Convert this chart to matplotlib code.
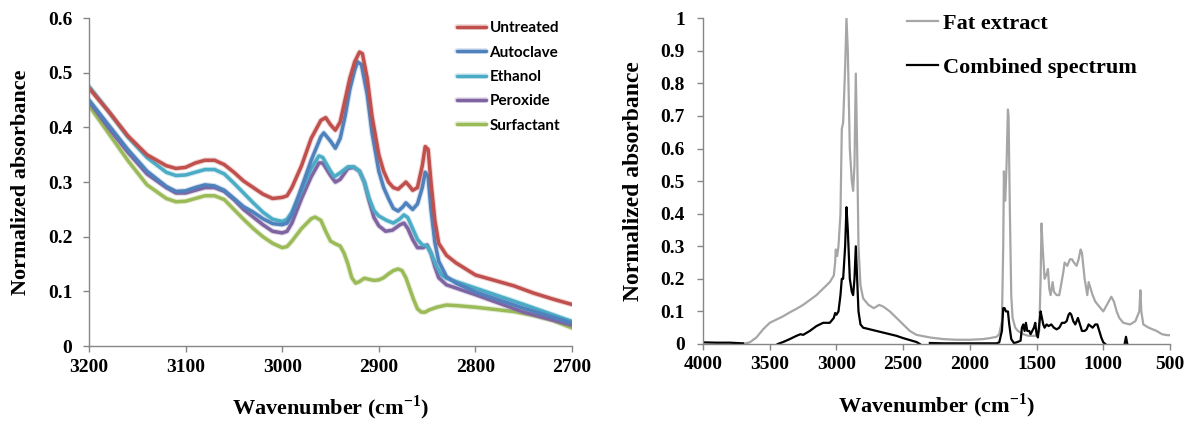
import numpy as np
import matplotlib.pyplot as plt
import matplotlib.patheffects as pe

plt.rcParams['mathtext.fontset'] = 'custom'
plt.rcParams['mathtext.bf'] = 'Liberation Serif:bold'
plt.rcParams['mathtext.rm'] = 'Liberation Serif:bold'

# ---- left panel: C-H stretch region, 5 pretreatments ----
wn_untreated = [3200, 3180, 3160, 3140, 3120, 3110, 3100, 3090, 3080, 3070, 3060, 3050, 3040, 3030,
                3020, 3010, 3000, 2995, 2990, 2980, 2970, 2960, 2955, 2950, 2945, 2940, 2935, 2930,
                2925, 2920, 2917, 2912, 2907, 2900, 2895, 2890, 2885, 2880, 2875, 2872, 2868, 2865,
                2860, 2855, 2852, 2849, 2846, 2842, 2838, 2830, 2820, 2800, 2780, 2760, 2740, 2720, 2700]
abs_untreated = [0.472, 0.43, 0.385, 0.35, 0.33, 0.325, 0.327, 0.335, 0.34, 0.34, 0.332, 0.318, 0.302, 0.29,
                 0.278, 0.27, 0.272, 0.275, 0.29, 0.33, 0.38, 0.413, 0.418, 0.405, 0.395, 0.41, 0.45, 0.49,
                 0.52, 0.538, 0.535, 0.49, 0.42, 0.35, 0.32, 0.3, 0.29, 0.287, 0.295, 0.3, 0.292, 0.285,
                 0.29, 0.33, 0.365, 0.36, 0.3, 0.23, 0.188, 0.166, 0.152, 0.13, 0.12, 0.11, 0.097, 0.086, 0.076]

wn_autoclave = [3200, 3180, 3160, 3140, 3120, 3110, 3100, 3090, 3080, 3070, 3060, 3050, 3040, 3030,
                3020, 3010, 3000, 2995, 2990, 2980, 2970, 2960, 2957, 2950, 2945, 2940, 2935, 2930,
                2925, 2922, 2918, 2912, 2907, 2900, 2895, 2890, 2885, 2880, 2875, 2872, 2868, 2865,
                2860, 2855, 2852, 2849, 2846, 2842, 2838, 2830, 2820, 2800, 2750, 2700]
abs_autoclave = [0.45, 0.405, 0.36, 0.32, 0.292, 0.283, 0.284, 0.29, 0.295, 0.293, 0.285, 0.27, 0.255, 0.245,
                 0.233, 0.224, 0.222, 0.225, 0.24, 0.29, 0.34, 0.383, 0.39, 0.375, 0.362, 0.38, 0.42, 0.47,
                 0.505, 0.52, 0.515, 0.46, 0.39, 0.32, 0.29, 0.27, 0.252, 0.247, 0.255, 0.262, 0.255, 0.25,
                 0.26, 0.29, 0.318, 0.31, 0.25, 0.19, 0.155, 0.127, 0.115, 0.099, 0.069, 0.042]

wn_ethanol = [3200, 3180, 3160, 3140, 3120, 3110, 3100, 3090, 3080, 3070, 3060, 3050, 3040, 3030,
              3020, 3010, 3000, 2995, 2990, 2980, 2970, 2962, 2958, 2950, 2946, 2940, 2932, 2926,
              2920, 2915, 2910, 2905, 2900, 2892, 2885, 2878, 2874, 2870, 2865, 2860, 2855, 2850,
              2846, 2840, 2835, 2830, 2800, 2750, 2700]
abs_ethanol = [0.475, 0.43, 0.383, 0.345, 0.318, 0.312, 0.313, 0.318, 0.323, 0.323, 0.315, 0.298, 0.28, 0.262,
               0.245, 0.232, 0.228, 0.232, 0.245, 0.285, 0.325, 0.348, 0.345, 0.32, 0.31, 0.317, 0.328, 0.328,
               0.32, 0.3, 0.27, 0.248, 0.238, 0.23, 0.225, 0.233, 0.24, 0.235, 0.215, 0.195, 0.185, 0.183,
               0.17, 0.145, 0.13, 0.124, 0.106, 0.076, 0.045]

wn_peroxide = [3200, 3180, 3160, 3140, 3120, 3110, 3100, 3090, 3080, 3070, 3060, 3050, 3040, 3030,
               3020, 3010, 3000, 2995, 2990, 2980, 2970, 2962, 2958, 2950, 2945, 2940, 2932, 2926,
               2920, 2915, 2910, 2905, 2900, 2893, 2886, 2878, 2874, 2870, 2865, 2860, 2854, 2850,
               2846, 2842, 2838, 2830, 2800, 2750, 2700]
abs_peroxide = [0.448, 0.4, 0.355, 0.315, 0.29, 0.28, 0.28, 0.285, 0.29, 0.29, 0.283, 0.268, 0.25, 0.236,
                0.222, 0.21, 0.207, 0.21, 0.225, 0.27, 0.31, 0.335, 0.335, 0.312, 0.3, 0.305, 0.325, 0.327,
                0.32, 0.3, 0.265, 0.235, 0.22, 0.21, 0.212, 0.222, 0.225, 0.215, 0.195, 0.18, 0.18, 0.185,
                0.17, 0.145, 0.125, 0.112, 0.094, 0.062, 0.038]

wn_surfactant = [3200, 3180, 3160, 3140, 3120, 3110, 3100, 3090, 3080, 3070, 3060, 3050, 3040, 3030,
                 3020, 3010, 3000, 2995, 2990, 2980, 2970, 2966, 2960, 2955, 2950, 2945, 2940, 2936,
                 2932, 2928, 2924, 2920, 2915, 2910, 2905, 2900, 2895, 2890, 2885, 2880, 2876, 2872,
                 2868, 2864, 2860, 2856, 2852, 2848, 2840, 2830, 2820, 2800, 2780, 2760, 2740, 2720, 2700]
abs_surfactant = [0.44, 0.39, 0.34, 0.295, 0.27, 0.264, 0.265, 0.27, 0.275, 0.275, 0.268, 0.25, 0.232, 0.215,
                  0.2, 0.188, 0.18, 0.182, 0.192, 0.215, 0.233, 0.236, 0.23, 0.21, 0.192, 0.187, 0.183, 0.17,
                  0.15, 0.125, 0.115, 0.118, 0.124, 0.122, 0.12, 0.121, 0.125, 0.132, 0.138, 0.141, 0.138, 0.125,
                  0.105, 0.085, 0.068, 0.062, 0.062, 0.066, 0.071, 0.075, 0.074, 0.071, 0.067, 0.063, 0.056, 0.047, 0.033]

# ---- right panel: full range, fat extract vs combined ----
wn_fat = [3700, 3650, 3600, 3550, 3500, 3450, 3400, 3350, 3300, 3250, 3200, 3150, 3100, 3050, 3020,
          3010, 3005, 2995, 2985, 2970, 2960, 2950, 2935, 2925, 2915, 2900, 2885, 2875, 2865, 2855,
          2845, 2835, 2820, 2800, 2760, 2720, 2680, 2650, 2600, 2550, 2500, 2450, 2400, 2300, 2200,
          2100, 2000, 1900, 1850, 1800, 1780, 1760, 1750, 1745, 1740, 1735, 1725, 1715, 1710, 1700,
          1690, 1680, 1660, 1640, 1600, 1560, 1500, 1480, 1470, 1463, 1455, 1440, 1420, 1415, 1405,
          1395, 1380, 1370, 1350, 1330, 1300, 1290, 1270, 1250, 1235, 1220, 1200, 1185, 1170, 1160,
          1140, 1120, 1110, 1095, 1080, 1060, 1040, 1000, 980, 960, 940, 920, 900, 880, 850, 800,
          760, 730, 722, 715, 700, 660, 600, 560, 520, 500]
abs_fat = [0.0, 0.005, 0.02, 0.045, 0.065, 0.075, 0.085, 0.097, 0.108, 0.12, 0.135, 0.15, 0.17, 0.19, 0.21,
           0.25, 0.29, 0.27, 0.3, 0.4, 0.66, 0.68, 0.85, 1.0, 0.9, 0.6, 0.5, 0.47, 0.55, 0.83,
           0.6, 0.3, 0.18, 0.14, 0.12, 0.11, 0.12, 0.115, 0.1, 0.08, 0.06, 0.04, 0.028, 0.02, 0.015,
           0.013, 0.013, 0.015, 0.018, 0.022, 0.03, 0.07, 0.3, 0.53, 0.45, 0.44, 0.55, 0.72, 0.7, 0.4,
           0.15, 0.08, 0.05, 0.04, 0.03, 0.025, 0.025, 0.04, 0.2, 0.37, 0.3, 0.2, 0.22, 0.23, 0.17,
           0.15, 0.19, 0.16, 0.15, 0.15, 0.22, 0.25, 0.24, 0.26, 0.26, 0.25, 0.24, 0.26, 0.29, 0.28,
           0.2, 0.15, 0.19, 0.17, 0.15, 0.13, 0.12, 0.1, 0.115, 0.13, 0.145, 0.13, 0.1, 0.08, 0.065, 0.06,
           0.07, 0.1, 0.165, 0.1, 0.06, 0.05, 0.04, 0.03, 0.027, 0.027]

nan = float('nan')
wn_comb = [4000, 3900, 3800, 3700, 3680, 3440, 3400, 3350, 3300, 3270, 3250, 3200, 3150, 3100, 3050,
           3020, 3010, 3000, 2985, 2970, 2960, 2950, 2935, 2925, 2915, 2900, 2885, 2875, 2865, 2855,
           2845, 2835, 2820, 2800, 2750, 2700, 2650, 2600, 2550, 2500, 2450, 2400, 2375, 2330,
           2300, 2200, 2000, 1800, 1780, 1760, 1750, 1740, 1730, 1715, 1705, 1690, 1670, 1650, 1620,
           1610, 1600, 1590, 1580, 1570, 1555, 1545, 1520, 1510, 1500, 1490, 1480, 1470, 1460, 1450,
           1440, 1425, 1410, 1390, 1370, 1350, 1330, 1310, 1290, 1275, 1260, 1250, 1240, 1225, 1210,
           1190, 1175, 1160, 1140, 1125, 1110, 1095, 1080, 1060, 1045, 1030, 1015, 1000, 985, 900,
           840, 830, 820, 760]
abs_comb = [0.005, 0.004, 0.004, 0.002, nan, 0.0, 0.006, 0.015, 0.025, 0.03, 0.028, 0.04, 0.055, 0.065, 0.065,
            0.08, 0.095, 0.09, 0.1, 0.15, 0.2, 0.2, 0.3, 0.42, 0.35, 0.2, 0.16, 0.15, 0.2, 0.3,
            0.2, 0.1, 0.06, 0.05, 0.045, 0.04, 0.035, 0.03, 0.025, 0.018, 0.012, 0.006, 0.0, nan,
            0.003, 0.002, 0.002, 0.002, 0.005, 0.04, 0.11, 0.11, 0.1, 0.1, 0.06, 0.015, 0.003, 0.005, 0.01,
            0.05, 0.06, 0.04, 0.065, 0.04, 0.04, 0.03, 0.05, 0.065, 0.03, 0.02, 0.06, 0.1, 0.08, 0.06,
            0.05, 0.06, 0.055, 0.06, 0.05, 0.045, 0.05, 0.065, 0.065, 0.07, 0.09, 0.095, 0.09, 0.07, 0.06,
            0.08, 0.06, 0.04, 0.04, 0.045, 0.06, 0.055, 0.05, 0.06, 0.06, 0.04, 0.02, 0.005, 0.0, nan,
            0.0, 0.022, 0.0, nan]

serif = 'Liberation Serif'
tick_size = 14
lab_size = 16
spine_col = '#868686'

fig = plt.figure(figsize=(11.9, 4.23), dpi=100)
ax1 = fig.add_axes([0.0748, 0.182, 0.4059, 0.775])
ax2 = fig.add_axes([0.5908, 0.1868, 0.3924, 0.770])

series = [
    ('Untreated', wn_untreated, abs_untreated, '#C0504D'),
    ('Autoclave', wn_autoclave, abs_autoclave, '#4F81BD'),
    ('Ethanol', wn_ethanol, abs_ethanol, '#4BACC6'),
    ('Peroxide', wn_peroxide, abs_peroxide, '#8064A2'),
    ('Surfactant', wn_surfactant, abs_surfactant, '#9BBB59'),
]
# draw bottom series first so that red sits on top like the original
for name, x, y, c in reversed(series):
    ax1.plot(x, y, color=c, lw=2.5, solid_capstyle='round', solid_joinstyle='round', label=name,
             path_effects=[pe.Stroke(linewidth=4.0, foreground=c, alpha=0.25), pe.Normal()])

ax1.set_xlim(3200, 2700)
ax1.set_ylim(0, 0.6)
ax1.set_xticks([3200, 3100, 3000, 2900, 2800, 2700])
ax1.set_yticks([0, 0.1, 0.2, 0.3, 0.4, 0.5, 0.6])
ax1.set_yticklabels(['0', '0.1', '0.2', '0.3', '0.4', '0.5', '0.6'])

ax2.plot(wn_fat, abs_fat, color='#A6A6A6', lw=1.6, label='Fat extract')
ax2.plot(wn_comb, abs_comb, color='black', lw=1.6, label='Combined spectrum')
ax2.set_xlim(4000, 500)
ax2.set_ylim(0, 1)
ax2.set_xticks([4000, 3500, 3000, 2500, 2000, 1500, 1000, 500])
ax2.set_yticks(np.arange(0, 1.01, 0.1))
ax2.set_yticklabels(['0', '0.1', '0.2', '0.3', '0.4', '0.5', '0.6', '0.7', '0.8', '0.9', '1'])

for ax, ypad in ((ax1, 8), (ax2, 9)):
    for s in ('top', 'right'):
        ax.spines[s].set_visible(False)
    for s in ('left', 'bottom'):
        ax.spines[s].set_color(spine_col)
        ax.spines[s].set_linewidth(1.0)
    ax.tick_params(axis='both', color=spine_col, length=4, width=1, direction='out')
    ax.tick_params(axis='y', pad=ypad)
    ax.tick_params(axis='x', pad=5)
    for t in ax.get_xticklabels() + ax.get_yticklabels():
        t.set_fontfamily(serif)
        t.set_fontweight('bold')
        t.set_fontsize(tick_size)
    ax.set_xlabel('Wavenumber (cm$^{\\mathbf{-1}}$)', fontfamily=serif, fontweight='bold',
                  fontsize=lab_size, labelpad=13)

ax1.set_ylabel('Normalized absorbance', fontfamily=serif, fontweight='bold', fontsize=16, labelpad=12)
ax2.set_ylabel('Normalized absorbance', fontfamily=serif, fontweight='bold', fontsize=17, labelpad=12)

h, l = ax1.get_legend_handles_labels()
leg1 = fig.legend(h[::-1], l[::-1], loc='upper left', bbox_to_anchor=(0.378, 0.968), frameon=False,
                  borderpad=0, handlelength=1.9, handletextpad=0.2, labelspacing=0.68,
                  prop={'family': 'Lato', 'weight': 'bold', 'size': 11})

h2, l2 = ax2.get_legend_handles_labels()
leg2 = fig.legend(h2, l2, loc='upper left', bbox_to_anchor=(0.753, 0.995), frameon=False,
                  borderpad=0, handlelength=1.4, handletextpad=0.2, labelspacing=1.05,
                  prop={'family': serif, 'weight': 'bold', 'size': 16})

fig.savefig('out.png', dpi=100)
